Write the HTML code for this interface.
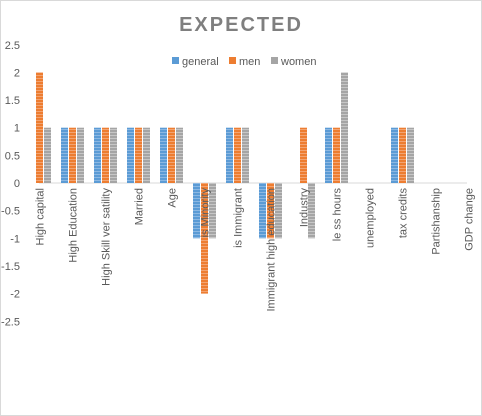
<!DOCTYPE html>
<html><head><meta charset="utf-8"><style>
body{margin:0;background:#fff}
svg{display:block;font-family:"Liberation Sans",sans-serif}
</style></head><body>
<svg id="c" width="482" height="416">
<defs>
<pattern id="pb" width="4" height="3" patternUnits="userSpaceOnUse"><rect width="4" height="3" fill="#5b9bd5"/><rect width="4" height="1" fill="#8cb8e3"/></pattern>
<pattern id="po" width="4" height="3" patternUnits="userSpaceOnUse"><rect width="4" height="3" fill="#ed7d31"/><rect width="4" height="1" fill="#f3a472"/></pattern>
<pattern id="pg" width="4" height="3" patternUnits="userSpaceOnUse"><rect width="4" height="3" fill="#a5a5a5"/><rect width="4" height="1" fill="#c6c6c6"/></pattern>
</defs>
<rect x="0.5" y="0.5" width="481" height="415" fill="#fff" stroke="#d9d9d9"/>
<text x="241" y="31" text-anchor="middle" font-size="20" font-weight="bold" letter-spacing="2" fill="#7f7f7f">EXPECTED</text>
<g id="legend"></g>
<g id="axes"></g>
<g id="bars"></g>
<g id="labels"></g>
</svg>
<script>
const categories=["High capital","High Education","High Skill ver satility","Married","Age","is Minority","is Immigrant","Immigrant high education","Industry","le ss hours","unemployed","tax credits","Partishanship","GDP change"];
const general=[0,1,1,1,1,-1,1,-1,0,1,0,1,0,0];
const men=[2,1,1,1,1,-2,1,-1,1,1,0,1,0,0];
const women=[1,1,1,1,1,-1,1,-1,-1,2,0,1,0,0];
const yTicks=[2.5,2,1.5,1,0.5,0,-0.5,-1,-1.5,-2,-2.5];
const seriesNames=["general","men","women"];
const NS="http://www.w3.org/2000/svg";
function y(v){return 183-v*55.3;}
function xc(i){return 39.5+i*33;}
function mk(tag,attrs,parent){const e=document.createElementNS(NS,tag);for(const k in attrs)e.setAttribute(k,attrs[k]);parent.appendChild(e);return e;}
const axes=document.getElementById('axes'),bars=document.getElementById('bars'),leg=document.getElementById('legend'),labels=document.getElementById('labels');
yTicks.forEach(t=>{const e=mk('text',{x:20,y:y(t)+4,'text-anchor':'end','font-size':11,fill:'#595959'},axes);e.textContent=String(t);

});
const zl=mk('line',{x1:39,x2:467,y1:y(0),y2:y(0),stroke:'#d9d9d9','stroke-width':1},axes);


const series=[general,men,women],fills=['url(#pb)','url(#po)','url(#pg)'],off=[-8,0,8];
series.forEach((s,si)=>s.forEach((v,i)=>{if(v===0)return;const x=xc(i)+off[si]-3.5;const r=mk('rect',{x:x,width:7,y:Math.min(y(v),y(0)),height:Math.abs(y(v)-y(0)),fill:fills[si]},bars);

}));
categories.forEach((c,i)=>{const x=xc(i)+4;const t=mk('text',{x:0,y:0,transform:'translate('+x+',188) rotate(-90)','text-anchor':'end','font-size':11,fill:'#595959'},labels);t.textContent=c;

});
const lcols=['#5b9bd5','#ed7d31','#a5a5a5'],lx=[172,229,271];
seriesNames.forEach((n,i)=>{const g=mk('g',{},leg);


mk('rect',{x:lx[i],y:57,width:7,height:7,fill:lcols[i]},g);const t=mk('text',{x:lx[i]+10,y:65,'font-size':11,fill:'#595959'},g);t.textContent=n;});
</script>
</body></html>
